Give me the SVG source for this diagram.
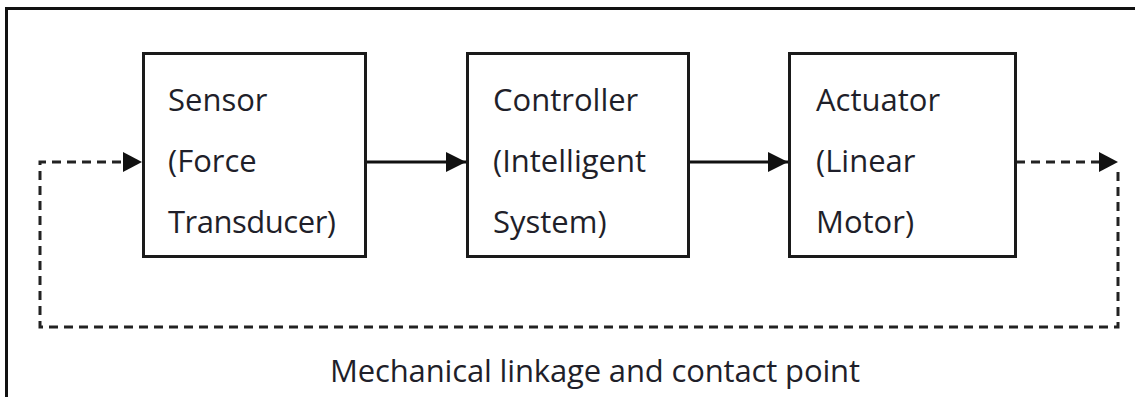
<svg xmlns="http://www.w3.org/2000/svg" width="1135" height="397" viewBox="0 0 1135 397">
<style>
.box{fill:#fff;stroke:#1a1a1a;stroke-width:3}
.t{font-family:"Open Sans","Liberation Sans",sans-serif;font-size:31px;fill:#1f1f2a}
.solid{stroke:#111;stroke-width:3;fill:none}
.dash{stroke:#222;stroke-width:3;fill:none;stroke-dasharray:9 6}
</style>
<defs>
<marker id="ah" markerWidth="20" markerHeight="20" refX="20" refY="10" orient="auto" markerUnits="userSpaceOnUse">
<path d="M0,0 L20,10 L0,20 Z" fill="#111"/>
</marker>
</defs>
<rect x="0" y="0" width="1135" height="397" fill="#fff"/>
<path d="M6.5,397 V8.5 H1135" stroke="#111" stroke-width="3" fill="none"/>
<g id="connectors">
<path class="solid" d="M366,162 H466" marker-end="url(#ah)"/>
<path class="solid" d="M689,162 H788" marker-end="url(#ah)"/>
<path class="dash" d="M1016,162 H1100"/>
<path d="M1099,152 L1118,162 L1099,172 Z" fill="#111"/>
<path class="dash" d="M1118,172 V327 H40 V162 H124"/>
<path d="M123,152 L142,162 L123,172 Z" fill="#111"/>
</g>
<g id="sensor">
<rect class="box" x="143.5" y="53.5" width="222" height="203"/>
<text class="t" x="168" y="111">Sensor</text>
<text class="t" x="168" y="172">(Force</text>
<text class="t" x="168" y="233" textLength="168">Transducer)</text>
</g>
<g id="controller">
<rect class="box" x="467.5" y="53.5" width="221" height="203"/>
<text class="t" x="493" y="111">Controller</text>
<text class="t" x="493" y="172">(Intelligent</text>
<text class="t" x="493" y="233">System)</text>
</g>
<g id="actuator">
<rect class="box" x="789.5" y="53.5" width="226" height="203"/>
<text class="t" x="816" y="111">Actuator</text>
<text class="t" x="816" y="172">(Linear</text>
<text class="t" x="816" y="233">Motor)</text>
</g>
<g id="label">
<text class="t" x="330" y="382" textLength="530">Mechanical linkage and contact point</text>
</g>
</svg>
